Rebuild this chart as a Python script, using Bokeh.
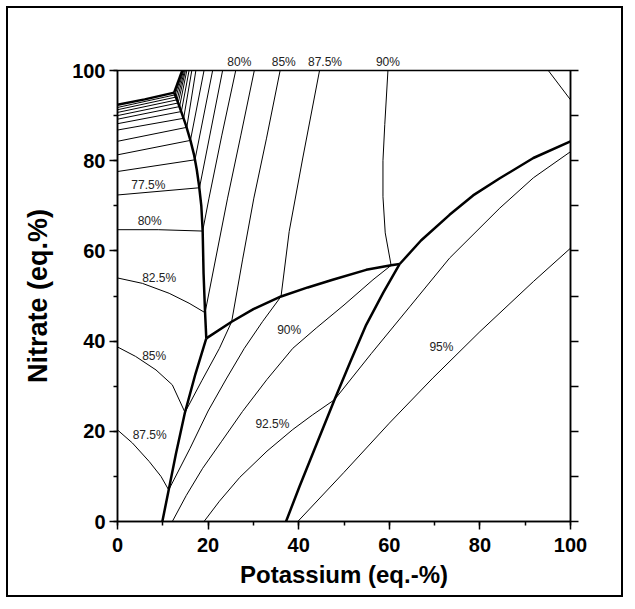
from bokeh.plotting import figure
from bokeh.models import Range1d, LinearAxis, SingleIntervalTicker, FixedTicker, ColumnDataSource
from bokeh.core.properties import value
from bokeh.embed import file_html
from bokeh.resources import INLINE

FONT = "Liberation Sans"

# ---------------- thick phase boundaries ----------------
b_left_low_x = [9.9, 11.3, 12.9, 14.9, 17.2, 19.6]
b_left_low_y = [0.0, 7.0, 15.0, 24.2, 32.7, 40.6]
b_left_up_x = [19.6, 19.3, 19.0, 18.8, 18.5, 18.0, 17.5, 16.9, 16.1, 15.1, 14.2, 13.4, 12.5]
b_left_up_y = [40.6, 47.0, 55.0, 64.4, 70.0, 74.5, 78.0, 81.3, 84.5, 87.9, 90.5, 92.8, 95.1]
b_top_x = [12.5, 14.3]
b_top_y = [95.1, 100.0]
b_cluster_x = [0.0, 6.0, 12.5]
b_cluster_y = [92.4, 93.6, 95.1]
b_mid_x = [19.6, 25.2, 30.0, 36.1, 42.0, 47.5, 54.9, 60.4, 62.3]
b_mid_y = [40.6, 44.3, 47.1, 49.9, 51.9, 53.6, 55.8, 56.8, 57.1]
b_steep_x = [37.2, 40.2, 44.0, 47.9, 51.4, 54.9, 58.7, 62.3]
b_steep_y = [0.0, 7.8, 17.3, 27.0, 35.4, 43.6, 50.8, 57.1]
b_ur_x = [62.3, 67.0, 73.3, 78.5, 84.4, 91.8, 100.0]
b_ur_y = [57.1, 62.3, 68.0, 72.3, 76.1, 80.6, 84.3]

# ---------------- thin iso-lines ----------------
# dense family near the upper-left corner (52.5 % ... 77.5 %)
cl_left_y = [91.8, 91.3, 90.7, 90.0, 89.2, 88.2, 86.8, 84.3, 81.3, 77.6, 72.4]
cl_end_x = [12.7, 12.9, 13.15, 13.4, 13.7, 14.1, 14.6, 15.3, 16.1, 17.1, 18.1]
cl_end_y = [94.6, 94.1, 93.5, 92.8, 92.0, 90.9, 89.4, 87.4, 84.5, 80.2, 74.0]
cl_top_x = [14.45, 14.6, 14.8, 15.0, 15.3, 15.8, 16.4, 17.3, 19.1, 21.0, 23.2]

l80_left_x = [0.0, 9.0, 18.8]
l80_left_y = [64.7, 64.7, 64.4]
l80_up_x = [18.8, 20.2, 23.0, 26.1]
l80_up_y = [64.4, 71.7, 85.5, 100.0]

l825_left_x = [0.0, 5.5, 11.4, 15.8, 19.33]
l825_left_y = [54.0, 52.8, 50.6, 48.4, 46.3]
l825_up_x = [19.33, 24.3, 27.2, 30.2]
l825_up_y = [46.3, 71.7, 85.5, 100.0]

l85_left_x = [0.0, 4.0, 8.5, 12.1, 14.9]
l85_left_y = [38.7, 36.6, 33.6, 30.3, 24.2]
l85_low_x = [14.9, 18.6, 22.5, 25.2]
l85_low_y = [24.2, 31.2, 38.4, 44.3]
l85_up_x = [25.2, 27.6, 30.1, 32.9, 35.9]
l85_up_y = [44.3, 58.0, 71.7, 85.0, 100.0]

l875_left_x = [0.0, 3.3, 7.0, 9.6, 11.3]
l875_left_y = [20.3, 17.4, 13.3, 10.0, 7.0]
l875_low_x = [11.3, 16.0, 20.0, 24.0, 28.0, 32.0, 36.1]
l875_low_y = [7.0, 16.2, 24.5, 31.6, 38.4, 44.3, 49.9]
l875_up_x = [36.1, 37.9, 40.9, 44.6]
l875_up_y = [49.9, 64.3, 80.6, 100.0]

l90_low_x = [12.1, 15.2, 18.8, 23.0, 27.6, 33.0, 38.7, 44.0, 50.0, 56.4, 60.4]
l90_low_y = [0.0, 5.8, 11.8, 17.8, 24.4, 31.5, 38.4, 43.0, 48.0, 53.6, 56.8]
l90_up_x = [60.4, 59.1, 58.6, 58.6, 59.0, 59.7]
l90_up_y = [56.8, 64.0, 72.0, 80.0, 88.0, 100.0]

l925_left_x = [19.1, 22.5, 27.0, 33.0, 38.7, 43.0, 47.9]
l925_left_y = [0.0, 4.5, 9.8, 15.6, 20.4, 23.6, 27.0]
l925_right_x = [47.9, 56.0, 64.5, 73.3, 84.4, 91.8, 100.0]
l925_right_y = [27.0, 37.2, 47.6, 58.4, 69.5, 76.2, 82.0]

l95_x = [39.8, 50.0, 60.0, 69.6, 80.0, 91.8, 100.0]
l95_y = [0.0, 10.9, 21.8, 31.8, 42.1, 53.2, 60.6]

l975_x = [95.1, 100.0]
l975_y = [100.0, 93.5]

# ---------------- labels ----------------
in_lab_text = ["77.5%", "80%", "82.5%", "85%", "87.5%", "90%", "92.5%", "95%"]
in_lab_x = [6.8, 7.1, 9.2, 8.1, 7.1, 37.9, 34.2, 71.5]
in_lab_y = [74.7, 66.7, 54.0, 36.6, 19.2, 42.4, 21.7, 38.6]
top_lab_text = ["80%", "85%", "87.5%", "90%"]
top_lab_x = [26.9, 36.7, 45.8, 59.7]

x_label = "Potassium (eq.-%)"
y_label = "Nitrate (eq.%)"

# ---------------- figure ----------------
p = figure(width=617, height=591, x_range=Range1d(0, 100), y_range=Range1d(0, 100),
           output_backend="svg", toolbar_location=None,
           min_border_left=109, min_border_right=55, min_border_top=62, min_border_bottom=78)
p.styles = {"border": "2px solid black", "margin-left": "6px", "margin-top": "6px"}
p.grid.visible = False
p.outline_line_color = "black"
p.outline_line_width = 1.5
p.background_fill_color = "white"
p.border_fill_color = "white"

for ax, lab in ((p.xaxis[0], x_label), (p.yaxis[0], y_label)):
    ax.ticker = SingleIntervalTicker(interval=20, num_minor_ticks=2)
    ax.axis_label = lab
    ax.axis_label_text_font = FONT
    ax.axis_label_text_font_style = "bold"
    ax.axis_label_text_color = "black"
    ax.major_label_text_font = FONT
    ax.major_label_text_font_style = "bold"
    ax.major_label_text_font_size = "20px"
    ax.major_label_text_color = "black"
    ax.axis_line_width = 1.5
    ax.major_tick_line_width = 1.5
    ax.minor_tick_line_width = 1.5
    ax.major_tick_in = 0
    ax.major_tick_out = 8
    ax.minor_tick_in = 0
    ax.minor_tick_out = 4
p.xaxis[0].axis_label_text_font_size = "24px"
p.yaxis[0].axis_label_text_font_size = "27px"
p.xaxis[0].major_label_standoff = 8
p.yaxis[0].major_label_standoff = 4
p.xaxis[0].axis_label_standoff = 6
p.yaxis[0].axis_label_standoff = 16

raxis = LinearAxis(ticker=SingleIntervalTicker(interval=10, num_minor_ticks=0),
                   major_tick_in=0, major_tick_out=8, minor_tick_out=0, minor_tick_in=0,
                   axis_line_width=1.5, major_tick_line_width=1.5,
                   major_label_overrides={float(v): "" for v in range(0, 101, 10)})
p.add_layout(raxis, "right")

taxis = LinearAxis(ticker=FixedTicker(ticks=top_lab_x, minor_ticks=[]),
                   major_tick_in=0, major_tick_out=0, minor_tick_out=0, minor_tick_in=0,
                   axis_line_color=None, major_label_standoff=2,
                   major_label_text_font=FONT, major_label_text_font_size="12px",
                   major_label_text_color="#222222",
                   major_label_overrides={float(x): t for x, t in zip(top_lab_x, top_lab_text)})
p.add_layout(taxis, "above")

thick = [(b_left_low_x, b_left_low_y), (b_left_up_x, b_left_up_y), (b_top_x, b_top_y),
         (b_cluster_x, b_cluster_y), (b_mid_x, b_mid_y), (b_steep_x, b_steep_y), (b_ur_x, b_ur_y)]

thin = []
for y0, ex, ey, tx in zip(cl_left_y, cl_end_x, cl_end_y, cl_top_x):
    thin.append(([0.0, ex], [y0, ey]))
    thin.append(([ex, tx], [ey, 100.0]))
thin += [(l80_left_x, l80_left_y), (l80_up_x, l80_up_y),
         (l825_left_x, l825_left_y), (l825_up_x, l825_up_y),
         (l85_left_x, l85_left_y), (l85_low_x, l85_low_y), (l85_up_x, l85_up_y),
         (l875_left_x, l875_left_y), (l875_low_x, l875_low_y), (l875_up_x, l875_up_y),
         (l90_low_x, l90_low_y), (l90_up_x, l90_up_y),
         (l925_left_x, l925_left_y), (l925_right_x, l925_right_y),
         (l95_x, l95_y), (l975_x, l975_y)]

p.multi_line(xs=[t[0] for t in thin], ys=[t[1] for t in thin], line_color="black", line_width=1)
p.multi_line(xs=[t[0] for t in thick], ys=[t[1] for t in thick], line_color="black", line_width=2.5)

src = ColumnDataSource(dict(x=in_lab_x, y=in_lab_y, t=in_lab_text))
p.text(x="x", y="y", text="t", source=src, text_font=value(FONT), text_font_size=value("12px"),
       text_align="center", text_baseline="middle", text_color="#222222")

open("out.html", "w").write(file_html(p, INLINE))
